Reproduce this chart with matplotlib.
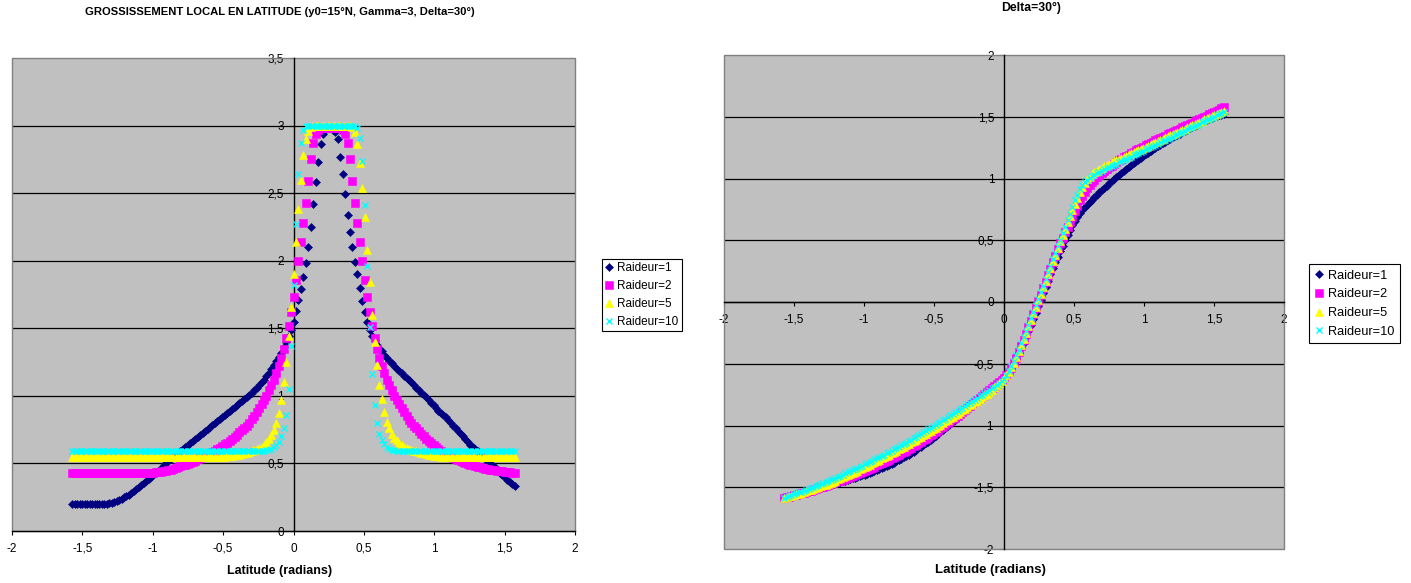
import numpy as np
import matplotlib
matplotlib.use('Agg')
import matplotlib.pyplot as plt
from matplotlib.ticker import FuncFormatter
from matplotlib.patches import Rectangle

plt.rcParams['font.family'] = ['Liberation Sans', 'DejaVu Sans']

# ---------------- data ----------------
# latitude sampling: every degree from -90 to 90 (one row of the lists = 10 degrees)
lat_deg = list(range(-90, 91))

series_labels = ['Raideur=1', 'Raideur=2', 'Raideur=5', 'Raideur=10']

# left chart : local magnification ("grossissement local")
gross_r1 = [0.20,0.20,0.20,0.20,0.20,0.20,0.20,0.20,0.20,0.20,
            0.20,0.20,0.20,0.20,0.20,0.205,0.21,0.215,0.22,0.23,
            0.24,0.25,0.26,0.27,0.28,0.295,0.31,0.325,0.34,0.355,
            0.37,0.385,0.40,0.415,0.43,0.445,0.46,0.48,0.50,0.515,
            0.53,0.545,0.56,0.575,0.59,0.605,0.62,0.635,0.65,0.665,
            0.68,0.695,0.71,0.725,0.74,0.755,0.77,0.785,0.80,0.815,
            0.83,0.845,0.86,0.875,0.89,0.905,0.92,0.935,0.95,0.965,
            0.98,0.99,1.01,1.02,1.04,1.06,1.08,1.10,1.12,1.15,
            1.17,1.20,1.23,1.26,1.29,1.32,1.36,1.40,1.44,1.49,
            1.55,1.63,1.71,1.79,1.88,1.98,2.10,2.25,2.42,2.58,
            2.73,2.86,2.94,2.97,2.98,2.98,2.97,2.95,2.90,2.77,
            2.64,2.49,2.34,2.21,2.10,1.99,1.90,1.80,1.70,1.62,
            1.55,1.49,1.44,1.41,1.38,1.35,1.33,1.30,1.28,1.26,
            1.24,1.22,1.20,1.185,1.17,1.15,1.13,1.115,1.10,1.08,
            1.06,1.04,1.02,1.005,0.99,0.97,0.95,0.93,0.91,0.89,
            0.87,0.855,0.84,0.82,0.80,0.78,0.76,0.74,0.72,0.70,
            0.68,0.66,0.64,0.625,0.61,0.59,0.57,0.55,0.53,0.515,
            0.50,0.485,0.47,0.45,0.43,0.415,0.40,0.38,0.36,0.345,
            0.33]
gross_r2 = [0.43,0.43,0.43,0.43,0.43,0.43,0.43,0.43,0.43,0.43,
            0.43,0.43,0.43,0.43,0.43,0.43,0.43,0.43,0.43,0.43,
            0.43,0.43,0.43,0.43,0.43,0.43,0.43,0.43,0.43,0.43,
            0.43,0.43,0.43,0.432,0.435,0.437,0.44,0.443,0.447,0.451,
            0.455,0.46,0.466,0.472,0.478,0.485,0.492,0.499,0.506,0.513,
            0.52,0.53,0.54,0.548,0.556,0.565,0.575,0.585,0.595,0.605,
            0.615,0.628,0.641,0.654,0.667,0.68,0.695,0.712,0.73,0.745,
            0.76,0.78,0.80,0.83,0.85,0.88,0.91,0.94,0.97,1.00,
            1.04,1.08,1.12,1.17,1.22,1.28,1.35,1.43,1.52,1.62,
            1.73,1.86,2.00,2.14,2.28,2.43,2.59,2.75,2.87,2.94,
            2.97,2.98,2.98,2.98,2.98,2.98,2.98,2.98,2.98,2.98,
            2.97,2.94,2.87,2.75,2.59,2.43,2.28,2.14,2.00,1.86,
            1.73,1.62,1.52,1.43,1.35,1.28,1.22,1.17,1.12,1.08,
            1.04,1.00,0.97,0.94,0.91,0.88,0.85,0.825,0.80,0.78,
            0.76,0.74,0.72,0.70,0.68,0.665,0.65,0.635,0.62,0.605,
            0.59,0.58,0.57,0.56,0.55,0.542,0.535,0.527,0.52,0.512,
            0.505,0.497,0.49,0.485,0.48,0.475,0.47,0.465,0.46,0.457,
            0.455,0.452,0.45,0.447,0.445,0.442,0.44,0.437,0.435,0.432,
            0.43]
gross_r5 = [0.55,0.55,0.55,0.55,0.55,0.55,0.55,0.55,0.55,0.55,
            0.55,0.55,0.55,0.55,0.55,0.55,0.55,0.55,0.55,0.55,
            0.55,0.55,0.55,0.55,0.55,0.55,0.55,0.55,0.55,0.55,
            0.55,0.55,0.55,0.55,0.55,0.55,0.55,0.55,0.55,0.55,
            0.55,0.55,0.55,0.55,0.55,0.55,0.55,0.55,0.55,0.55,
            0.55,0.55,0.55,0.55,0.55,0.55,0.55,0.55,0.55,0.55,
            0.55,0.55,0.55,0.552,0.555,0.557,0.56,0.562,0.565,0.57,
            0.575,0.58,0.585,0.59,0.60,0.605,0.615,0.625,0.64,0.66,
            0.68,0.71,0.75,0.80,0.87,0.97,1.10,1.25,1.44,1.66,
            1.90,2.14,2.38,2.60,2.78,2.90,2.96,2.99,3.00,3.00,
            3.00,3.00,3.00,3.00,3.00,3.00,3.00,3.00,3.00,3.00,
            3.00,3.00,3.00,3.00,2.99,2.95,2.86,2.72,2.54,2.32,
            2.08,1.84,1.60,1.40,1.23,1.08,0.98,0.88,0.81,0.76,
            0.72,0.69,0.67,0.65,0.635,0.625,0.615,0.607,0.60,0.595,
            0.59,0.585,0.58,0.575,0.57,0.565,0.56,0.557,0.555,0.552,
            0.55,0.55,0.55,0.55,0.55,0.55,0.55,0.55,0.55,0.55,
            0.55,0.55,0.55,0.55,0.55,0.55,0.55,0.55,0.55,0.55,
            0.55,0.55,0.55,0.55,0.55,0.55,0.55,0.55,0.55,0.55,
            0.55]
gross_r10 = [0.59,0.59,0.59,0.59,0.59,0.59,0.59,0.59,0.59,0.59,
             0.59,0.59,0.59,0.59,0.59,0.59,0.59,0.59,0.59,0.59,
             0.59,0.59,0.59,0.59,0.59,0.59,0.59,0.59,0.59,0.59,
             0.59,0.59,0.59,0.59,0.59,0.59,0.59,0.59,0.59,0.59,
             0.59,0.59,0.59,0.59,0.59,0.59,0.59,0.59,0.59,0.59,
             0.59,0.59,0.59,0.59,0.59,0.59,0.59,0.59,0.59,0.59,
             0.59,0.59,0.59,0.59,0.59,0.59,0.59,0.59,0.59,0.59,
             0.59,0.59,0.59,0.59,0.59,0.59,0.59,0.59,0.595,0.60,
             0.60,0.61,0.62,0.635,0.66,0.70,0.76,0.86,1.05,1.37,
             1.82,2.27,2.64,2.87,2.97,3.00,3.00,3.00,3.00,3.00,
             3.00,3.00,3.00,3.00,3.00,3.00,3.00,3.00,3.00,3.00,
             3.00,3.00,3.00,3.00,3.00,3.00,2.98,2.91,2.74,2.41,
             1.96,1.51,1.16,0.93,0.80,0.72,0.67,0.645,0.625,0.61,
             0.60,0.597,0.595,0.592,0.59,0.59,0.59,0.59,0.59,0.59,
             0.59,0.59,0.59,0.59,0.59,0.59,0.59,0.59,0.59,0.59,
             0.59,0.59,0.59,0.59,0.59,0.59,0.59,0.59,0.59,0.59,
             0.59,0.59,0.59,0.59,0.59,0.59,0.59,0.59,0.59,0.59,
             0.59,0.59,0.59,0.59,0.59,0.59,0.59,0.59,0.59,0.59,
             0.59]

# right chart : transformed latitude
trans_r1 = [-1.590,-1.584,-1.577,-1.571,-1.565,-1.559,-1.552,-1.547,-1.540,-1.535,
            -1.528,-1.523,-1.517,-1.512,-1.506,-1.501,-1.495,-1.490,-1.485,-1.480,
            -1.474,-1.469,-1.463,-1.458,-1.452,-1.447,-1.441,-1.435,-1.429,-1.423,
            -1.417,-1.411,-1.404,-1.398,-1.391,-1.384,-1.376,-1.369,-1.361,-1.353,
            -1.345,-1.337,-1.328,-1.320,-1.310,-1.301,-1.291,-1.281,-1.270,-1.259,
            -1.248,-1.237,-1.224,-1.212,-1.199,-1.186,-1.172,-1.158,-1.144,-1.130,
            -1.115,-1.100,-1.084,-1.069,-1.052,-1.035,-1.018,-1.001,-0.984,-0.968,
            -0.952,-0.935,-0.918,-0.901,-0.884,-0.867,-0.850,-0.833,-0.816,-0.799,
            -0.783,-0.767,-0.751,-0.735,-0.720,-0.705,-0.690,-0.674,-0.657,-0.638,
            -0.617,-0.592,-0.564,-0.532,-0.496,-0.454,-0.415,-0.373,-0.330,-0.285,
            -0.238,-0.189,-0.139,-0.088,-0.035,0.018,0.070,0.122,0.174,0.225,
            0.275,0.321,0.366,0.412,0.457,0.501,0.543,0.583,0.621,0.659,
            0.692,0.722,0.747,0.768,0.788,0.807,0.826,0.847,0.867,0.887,
            0.906,0.924,0.942,0.960,0.977,0.995,1.011,1.028,1.044,1.061,
            1.076,1.092,1.107,1.123,1.138,1.152,1.167,1.181,1.195,1.208,
            1.222,1.235,1.248,1.260,1.273,1.286,1.297,1.309,1.320,1.332,
            1.342,1.353,1.363,1.374,1.384,1.395,1.405,1.415,1.425,1.435,
            1.445,1.454,1.464,1.472,1.480,1.488,1.496,1.503,1.511,1.518,
            1.525]
trans_r2 = [-1.585,-1.580,-1.575,-1.570,-1.565,-1.560,-1.554,-1.549,-1.543,-1.538,
            -1.532,-1.527,-1.520,-1.514,-1.507,-1.501,-1.494,-1.488,-1.481,-1.475,
            -1.467,-1.461,-1.453,-1.446,-1.438,-1.431,-1.423,-1.416,-1.408,-1.401,
            -1.393,-1.385,-1.376,-1.368,-1.359,-1.350,-1.341,-1.332,-1.323,-1.314,
            -1.305,-1.296,-1.285,-1.276,-1.265,-1.256,-1.245,-1.235,-1.224,-1.214,
            -1.203,-1.192,-1.180,-1.169,-1.157,-1.145,-1.132,-1.119,-1.106,-1.093,
            -1.080,-1.067,-1.052,-1.039,-1.024,-1.009,-0.994,-0.979,-0.964,-0.950,
            -0.936,-0.921,-0.906,-0.891,-0.876,-0.860,-0.844,-0.828,-0.812,-0.796,
            -0.780,-0.764,-0.748,-0.732,-0.716,-0.700,-0.684,-0.667,-0.650,-0.632,
            -0.612,-0.588,-0.563,-0.532,-0.495,-0.452,-0.407,-0.358,-0.308,-0.257,
            -0.205,-0.153,-0.101,-0.049,0.005,0.058,0.111,0.164,0.217,0.270,
            0.323,0.375,0.426,0.475,0.521,0.565,0.607,0.648,0.689,0.733,
            0.778,0.822,0.860,0.893,0.922,0.947,0.969,0.990,1.009,1.028,
            1.045,1.061,1.076,1.091,1.105,1.119,1.132,1.146,1.158,1.171,
            1.182,1.194,1.205,1.217,1.228,1.238,1.249,1.259,1.270,1.280,
            1.290,1.299,1.309,1.318,1.328,1.338,1.347,1.357,1.366,1.376,
            1.385,1.395,1.404,1.414,1.423,1.433,1.443,1.452,1.462,1.471,
            1.481,1.490,1.500,1.509,1.519,1.528,1.538,1.547,1.557,1.567,
            1.578]
trans_r5 = [-1.585,-1.580,-1.574,-1.569,-1.563,-1.558,-1.551,-1.546,-1.539,-1.533,
            -1.526,-1.520,-1.513,-1.506,-1.499,-1.492,-1.485,-1.478,-1.471,-1.463,
            -1.454,-1.446,-1.437,-1.428,-1.419,-1.410,-1.401,-1.392,-1.383,-1.374,
            -1.365,-1.356,-1.346,-1.337,-1.327,-1.317,-1.307,-1.297,-1.287,-1.277,
            -1.267,-1.257,-1.246,-1.236,-1.225,-1.215,-1.204,-1.193,-1.182,-1.171,
            -1.160,-1.149,-1.137,-1.126,-1.114,-1.102,-1.090,-1.078,-1.066,-1.054,
            -1.042,-1.030,-1.017,-1.005,-0.992,-0.979,-0.966,-0.953,-0.940,-0.928,
            -0.916,-0.903,-0.890,-0.877,-0.864,-0.851,-0.838,-0.825,-0.812,-0.799,
            -0.785,-0.771,-0.756,-0.741,-0.725,-0.709,-0.692,-0.675,-0.657,-0.637,
            -0.616,-0.590,-0.563,-0.530,-0.490,-0.445,-0.399,-0.350,-0.300,-0.249,
            -0.197,-0.145,-0.093,-0.041,0.013,0.066,0.119,0.172,0.225,0.278,
            0.331,0.384,0.437,0.490,0.543,0.595,0.646,0.696,0.745,0.795,
            0.844,0.892,0.933,0.966,0.993,1.015,1.033,1.049,1.063,1.077,
            1.089,1.100,1.110,1.121,1.130,1.140,1.149,1.159,1.167,1.177,
            1.185,1.195,1.203,1.213,1.222,1.231,1.241,1.249,1.259,1.267,
            1.277,1.286,1.295,1.304,1.313,1.323,1.332,1.341,1.350,1.359,
            1.368,1.378,1.386,1.396,1.404,1.414,1.423,1.432,1.442,1.450,
            1.460,1.468,1.478,1.486,1.496,1.504,1.514,1.523,1.532,1.541,
            1.550]
trans_r10 = [-1.585,-1.578,-1.571,-1.564,-1.557,-1.550,-1.542,-1.535,-1.527,-1.520,
             -1.512,-1.505,-1.497,-1.489,-1.481,-1.473,-1.465,-1.457,-1.449,-1.441,
             -1.432,-1.424,-1.415,-1.406,-1.397,-1.388,-1.379,-1.370,-1.361,-1.352,
             -1.343,-1.334,-1.324,-1.315,-1.305,-1.295,-1.285,-1.275,-1.265,-1.255,
             -1.245,-1.235,-1.224,-1.214,-1.203,-1.193,-1.182,-1.171,-1.160,-1.149,
             -1.138,-1.127,-1.115,-1.104,-1.092,-1.080,-1.068,-1.056,-1.044,-1.032,
             -1.020,-1.008,-0.995,-0.983,-0.970,-0.957,-0.944,-0.931,-0.918,-0.906,
             -0.894,-0.881,-0.868,-0.855,-0.842,-0.829,-0.816,-0.803,-0.790,-0.777,
             -0.764,-0.751,-0.738,-0.725,-0.712,-0.699,-0.686,-0.672,-0.657,-0.640,
             -0.620,-0.592,-0.560,-0.522,-0.479,-0.432,-0.385,-0.336,-0.286,-0.235,
             -0.183,-0.131,-0.079,-0.027,0.027,0.080,0.133,0.186,0.239,0.292,
             0.345,0.398,0.451,0.504,0.557,0.610,0.663,0.716,0.769,0.822,
             0.870,0.912,0.945,0.970,0.990,1.006,1.019,1.031,1.042,1.053,
             1.063,1.073,1.082,1.092,1.101,1.111,1.120,1.130,1.139,1.149,
             1.158,1.168,1.177,1.187,1.197,1.206,1.216,1.225,1.235,1.244,
             1.254,1.263,1.273,1.282,1.292,1.302,1.311,1.321,1.330,1.340,
             1.349,1.359,1.368,1.378,1.387,1.397,1.407,1.416,1.426,1.435,
             1.445,1.454,1.464,1.473,1.483,1.492,1.502,1.511,1.521,1.530,
             1.540]

left_title = 'GROSSISSEMENT LOCAL EN LATITUDE (y0=15°N, Gamma=3, Delta=30°)'
right_title = 'Delta=30°)'
x_label = 'Latitude (radians)'
x_ticks = [-2, -1.5, -1, -0.5, 0, 0.5, 1, 1.5, 2]
left_y_ticks = [0, 0.5, 1, 1.5, 2, 2.5, 3, 3.5]
right_y_ticks = [-2, -1.5, -1, -0.5, 0, 0.5, 1, 1.5, 2]

# ---------------- style ----------------
styles = [
    dict(marker='D', ms=3.8, color='#000080', mec='#000080', mew=0.4),
    dict(marker='s', ms=5.2, color='#FF00FF', mec='#FF00FF', mew=0.4),
    dict(marker='^', ms=6.1, color='#FFFF00', mec='#FFFF00', mew=0.4),
    dict(marker='x', ms=5.0, color='#00FFFF', mec='#00FFFF', mew=1.0),
]

W, H = 1411, 583
fig = plt.figure(figsize=(W / 100, H / 100), dpi=100)
fig.patch.set_facecolor('white')

def px_axes(l, t, r, b):
    return fig.add_axes([l / W, 1 - b / H, (r - l) / W, (b - t) / H])

ax1 = px_axes(12, 58, 575, 531)
ax2 = px_axes(724, 55, 1284, 549)

fmt = FuncFormatter(lambda v, p: ('%g' % v).replace('.', ','))
lat_rad = np.radians(lat_deg)

def style_axes(ax, yticks, fsize):
    ax.set_facecolor('#C0C0C0')
    ax.set_xlim(x_ticks[0], x_ticks[-1])
    ax.set_ylim(yticks[0], yticks[-1])
    ax.set_axisbelow(True)
    for s in ('top', 'right'):
        ax.spines[s].set_visible(False)
    for s in ('left', 'bottom'):
        ax.spines[s].set_position(('data', 0))
        ax.spines[s].set_color('black')
        ax.spines[s].set_linewidth(1.0)
        ax.spines[s].set_zorder(0.8)
    ax.set_xticks(x_ticks)
    ax.set_yticks(yticks)
    ax.xaxis.set_major_formatter(fmt)
    ax.yaxis.set_major_formatter(fmt)
    ax.tick_params(axis='both', direction='out', length=3, width=0.8,
                   labelsize=fsize, colors='black')
    ax.tick_params(axis='x', pad=5.5)
    ax.tick_params(axis='y', pad=4)
    for yv in yticks[1:-1]:
        ax.axhline(yv, color='black', lw=0.9, zorder=0.6)
    ax.add_patch(Rectangle((0, 0), 1, 1, transform=ax.transAxes, fill=False,
                           edgecolor='#808080', lw=1.0, zorder=0.7, clip_on=False))

style_axes(ax1, left_y_ticks, 8.5)
style_axes(ax2, right_y_ticks, 8.5)

for ys, st, lab in zip([gross_r1, gross_r2, gross_r5, gross_r10], styles, series_labels):
    ax1.plot(lat_rad, ys, ls='none', label=lab, zorder=3, clip_on=False, **st)
for ys, st, lab in zip([trans_r1, trans_r2, trans_r5, trans_r10], styles, series_labels):
    ax2.plot(lat_rad, ys, ls='none', label=lab, zorder=3, clip_on=False, **st)

def add_legend(ax, x, y, fsize, spacing, bpad):
    lg = ax.legend(loc='upper left', bbox_to_anchor=(x / W, 1 - y / H),
                   bbox_transform=fig.transFigure, frameon=True, fancybox=False,
                   edgecolor='black', framealpha=1, facecolor='white',
                   fontsize=fsize, handlelength=0.7, handletextpad=0.35,
                   borderpad=bpad, labelspacing=spacing, borderaxespad=0)
    lg.get_frame().set_linewidth(0.8)
    return lg

add_legend(ax1, 602, 259, 8.5, 0.50, 0.25)
add_legend(ax2, 1309, 264, 9.2, 0.52, 0.45)

fig.text(280 / W, 1 - 12 / H, left_title, ha='center', va='center',
         fontsize=8.1, fontweight='bold')
fig.text(1031 / W, 1 - 8 / H, right_title, ha='center', va='center',
         fontsize=8.8, fontweight='bold')
fig.text(280 / W, 1 - 571 / H, x_label, ha='center', va='center',
         fontsize=9, fontweight='bold')
fig.text(990 / W, 1 - 570.5 / H, x_label, ha='center', va='center',
         fontsize=9.5, fontweight='bold')

fig.savefig('out.png', dpi=100)
